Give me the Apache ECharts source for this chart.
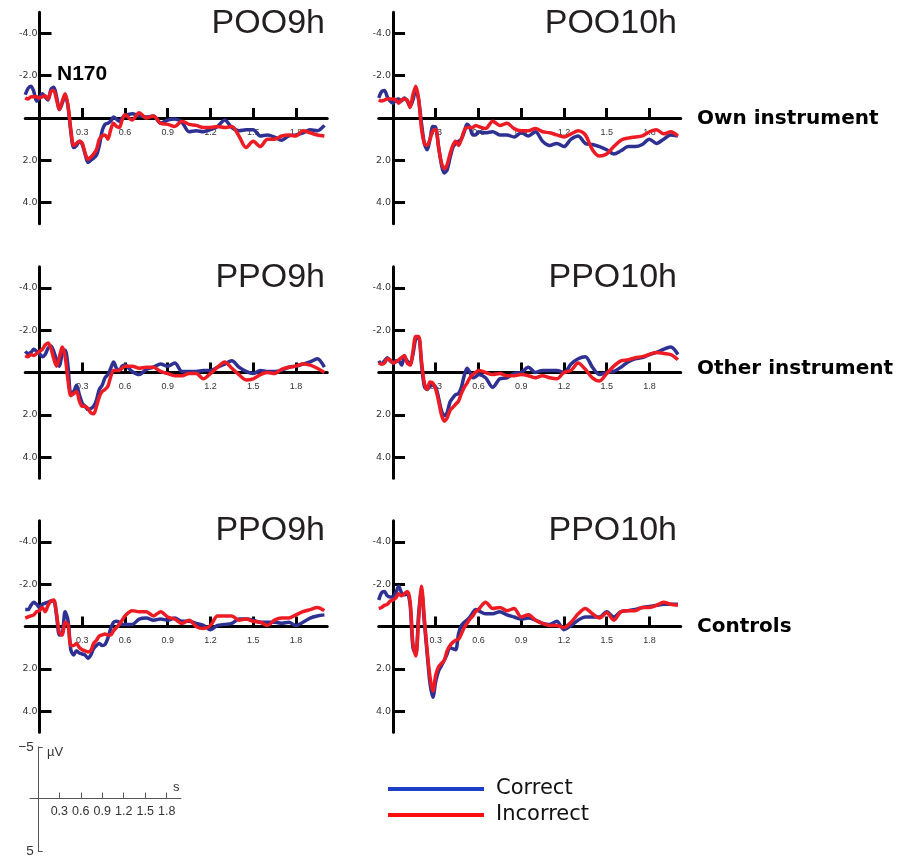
<!DOCTYPE html>
<html>
<head>
<meta charset="utf-8">
<script src="https://cdn.jsdelivr.net/npm/echarts@6/dist/echarts.min.js"></script>
<style>
  html, body { margin: 0; padding: 0; background: #fff; }
  #chart { width: 902px; height: 858px; }
</style>
</head>
<body>
<div id="chart"></div>
<script>
// time points (s)
var times = [-0.1, -0.08, -0.06, -0.04, -0.02, 0, 0.02, 0.04, 0.06, 0.08, 0.1, 0.12, 0.14, 0.16, 0.18, 0.2,
  0.22, 0.24, 0.26, 0.28, 0.3, 0.32, 0.34, 0.36, 0.38, 0.4, 0.42, 0.44, 0.46, 0.48, 0.5, 0.52, 0.54, 0.56, 0.58, 0.6,
  0.65, 0.7, 0.75, 0.8, 0.85, 0.9, 0.95, 1.0, 1.05, 1.1, 1.15, 1.2, 1.25, 1.3, 1.35, 1.4, 1.45, 1.5,
  1.55, 1.6, 1.65, 1.7, 1.75, 1.8, 1.85, 1.9, 1.95, 2.0];

var xTicks = [0.3, 0.6, 0.9, 1.2, 1.5, 1.8];
var yTicks = [-4, -2, 2, 4];
var scaleYTicks = [-5, 5];

var panelNames = ['POO9h', 'POO10h', 'PPO9h', 'PPO10h', 'PPO9h', 'PPO10h'];
var groupNames = ['Own instrument', 'Other instrument', 'Controls'];
var seriesNames = ['Correct', 'Incorrect'];

// µV, negative up
var ownPOO9hCorrect = [-1.1, -1.4, -1.5, -1.25, -0.8, -0.95, -1.15, -1.0, -0.85, -1.35, -1.45, -1.0, -0.4, -0.7, -1.1, -0.55,
  0.65, 1.4, 1.3, 1.1, 1.25, 1.7, 2.1, 2.0, 1.9, 1.75, 1.3, 0.6, 0.3, 0.25, 0.15, -0.05, 0.05, 0.15, 0.0, -0.1,
  -0.2, -0.1, -0.05, -0.1, 0.25, 0.1, 0.05, 0.2, 0.65, 0.6, 0.65, 0.55, 0.4, 0.1, 0.45, 0.6, 0.55, 0.55,
  0.85, 0.8, 0.9, 1.05, 0.85, 0.8, 0.7, 0.55, 0.6, 0.35];
var ownPOO9hIncorrect = [-0.95, -0.9, -1.0, -1.0, -1.0, -0.95, -1.0, -1.05, -0.9, -1.25, -1.3, -0.85, -0.4, -0.8, -1.15, -0.6,
  0.55, 1.3, 1.2, 1.1, 1.2, 1.65, 1.95, 1.85, 1.7, 1.5, 1.0, 0.85, 0.8, 1.0, 0.55, 0.25, 0.4, 0.45, 0.1, -0.15,
  0.1, -0.25, 0.0, -0.1, 0.25, 0.3, 0.4, 0.15, 0.3, 0.35, 0.45, 0.45, 0.4, 0.45, 0.4, 0.85, 1.4, 1.1,
  1.35, 1.0, 1.0, 0.85, 0.8, 0.85, 0.6, 0.7, 0.8, 0.85];

var ownPOO10hCorrect = [-0.95, -1.25, -1.3, -1.0, -0.8, -0.7, -0.85, -0.9, -0.8, -0.95, -0.8, -0.55, -0.85, -1.35, -0.85, 0.25,
  1.2, 1.5, 1.0, 0.4, 0.45, 1.35, 2.2, 2.6, 2.45, 1.9, 1.4, 1.2, 1.1, 1.0, 0.65, 0.3, 0.45, 0.8, 0.8, 0.65,
  0.7, 0.65, 0.8, 0.8, 0.9, 0.7, 0.85, 0.65, 1.1, 1.3, 1.2, 1.35, 1.0, 0.85, 1.2, 1.25, 1.35, 1.5,
  1.7, 1.55, 1.35, 1.35, 1.25, 1.0, 1.2, 1.0, 0.8, 0.85];
var ownPOO10hIncorrect = [-0.85, -0.8, -0.85, -0.9, -0.9, -0.9, -0.85, -0.7, -0.85, -0.9, -0.85, -0.5, -1.1, -1.5, -0.9, 0.5,
  1.2, 1.3, 1.0, 0.6, 0.55, 1.4, 2.1, 2.4, 2.2, 1.7, 1.3, 1.1, 1.3, 1.0, 0.6, 0.45, 0.45, 0.45, 0.35, 0.4,
  0.5, 0.15, 0.35, 0.25, 0.5, 0.6, 0.6, 0.5, 0.65, 0.7, 0.8, 0.9, 0.75, 0.6, 0.8, 1.5, 1.8, 1.7,
  1.35, 1.05, 0.95, 0.9, 0.85, 0.65, 0.55, 0.75, 0.65, 0.85];

var otherPPO9hCorrect = [-1.0, -0.9, -0.95, -1.1, -1.0, -0.9, -0.75, -0.85, -1.15, -1.25, -1.0, -0.6, -0.3, -0.9, -1.05, -0.3,
  1.0, 0.9, 0.6, 1.05, 1.45, 1.6, 1.75, 1.7, 1.6, 1.3, 0.8, 0.6, 0.25, 0.1, -0.2, -0.5, -0.2, -0.1, -0.3, -0.35,
  -0.05, 0.1, -0.15, -0.25, -0.4, -0.3, -0.45, -0.05, -0.05, -0.05, -0.1, -0.1, -0.25, -0.4, -0.55, -0.25, -0.05, 0.05,
  -0.1, -0.05, -0.05, -0.1, -0.25, -0.3, -0.4, -0.5, -0.65, -0.25];
var otherPPO9hIncorrect = [-0.8, -0.75, -0.85, -0.8, -0.9, -1.0, -1.1, -1.3, -1.4, -1.15, -0.65, -0.3, -0.75, -1.2, -0.75, 0.35,
  1.1, 1.0, 0.9, 1.35, 1.6, 1.6, 1.7, 1.9, 1.95, 1.6, 1.15, 0.9, 0.8, 0.65, 0.2, -0.1, -0.1, -0.1, -0.2, -0.3,
  -0.3, -0.2, -0.25, -0.25, -0.05, 0.05, 0.15, 0.15, 0.05, 0.05, 0.3, 0.05, -0.25, -0.5, -0.2, 0.1, 0.35, 0.3,
  0.1, 0.0, 0.05, -0.15, -0.25, -0.3, -0.4, -0.35, -0.2, 0.0];

var otherPPO10hCorrect = [-0.55, -0.4, -0.55, -0.7, -0.55, -0.45, -0.55, -0.55, -0.35, -0.7, -0.55, -0.4, -0.85, -1.6, -1.65, -0.4,
  0.65, 0.8, 0.65, 0.6, 0.7, 1.2, 1.8, 2.05, 1.9, 1.4, 1.2, 1.05, 1.0, 0.7, 0.15, -0.2, 0.0, 0.25, 0.2, 0.1,
  0.25, 0.7, 0.3, 0.25, 0.05, 0.0, -0.25, 0.0, -0.1, -0.1, -0.1, 0.0, -0.4, -0.65, -0.75, -0.25, 0.1, 0.0,
  -0.05, -0.25, -0.5, -0.65, -0.7, -0.85, -0.95, -1.1, -1.2, -0.85];
var otherPPO10hIncorrect = [-0.45, -0.4, -0.45, -0.65, -0.6, -0.45, -0.5, -0.6, -0.7, -0.8, -0.45, -0.35, -1.0, -1.7, -1.7, -0.55,
  0.5, 0.8, 0.45, 0.5, 0.8, 1.35, 2.0, 2.3, 2.15, 1.8, 1.65, 1.5, 1.35, 1.0, 0.7, 0.5, 0.25, 0.1, 0.0, -0.1,
  0.0, 0.1, 0.05, 0.15, 0.15, 0.1, 0.15, 0.25, 0.15, 0.25, 0.3, 0.0, -0.1, -0.45, -0.15, 0.25, 0.4, 0.05,
  -0.3, -0.55, -0.6, -0.7, -0.75, -0.85, -0.95, -0.9, -0.85, -0.6];

var ctrlPPO9hCorrect = [-0.8, -0.8, -1.0, -1.15, -1.05, -0.9, -1.05, -1.1, -1.15, -1.2, -1.2, -0.5, 0.4, 0.35, -0.7, -0.3,
  1.1, 1.35, 1.15, 1.25, 1.3, 1.35, 1.5, 1.35, 1.05, 0.9, 0.8, 0.9, 0.85, 0.55, 0.1, -0.2, -0.25, -0.2, -0.1, -0.1,
  -0.1, -0.35, -0.4, -0.3, -0.35, -0.3, -0.4, -0.25, -0.25, -0.15, -0.05, 0.15, -0.05, -0.1, -0.15, -0.35, -0.35, -0.3,
  -0.2, -0.2, -0.2, -0.15, -0.2, -0.05, -0.2, -0.4, -0.5, -0.55];
var ctrlPPO9hIncorrect = [-0.4, -0.45, -0.5, -0.55, -0.7, -0.75, -0.9, -0.7, -1.0, -1.2, -1.25, -0.6, 0.3, 0.4, -0.2, -0.1,
  0.9, 0.9, 0.8, 1.0, 1.1, 1.15, 1.2, 1.15, 0.8, 0.65, 0.45, 0.4, 0.35, 0.4, 0.4, 0.2, 0.05, -0.1, -0.3, -0.5,
  -0.75, -0.7, -0.7, -0.5, -0.7, -0.45, -0.35, -0.15, -0.3, 0.0, 0.1, -0.05, -0.5, -0.5, -0.5, -0.3, -0.35, -0.25,
  -0.2, -0.05, -0.3, -0.4, -0.4, -0.55, -0.7, -0.8, -0.9, -0.75];

var ctrlPPO10hCorrect = [-1.25, -1.6, -1.65, -1.45, -1.4, -1.4, -1.6, -1.9, -1.6, -1.5, -1.55, -1.05, 1.0, 1.3, -0.6, -1.7,
  -0.2, 1.3, 2.7, 3.35, 2.6, 2.1, 1.85, 1.6, 1.3, 1.0, 1.05, 1.1, 0.35, -0.05, -0.2, -0.3, -0.45, -0.65, -0.8, -0.75,
  -0.6, -0.6, -0.7, -0.55, -0.45, -0.35, -0.4, -0.3, -0.15, -0.1, -0.25, 0.15, -0.05, -0.3, -0.45, -0.45, -0.45, -0.7,
  -0.45, -0.7, -0.75, -0.8, -0.9, -0.95, -1.0, -1.05, -1.05, -1.05];
var ctrlPPO10hIncorrect = [-0.85, -0.9, -1.0, -1.05, -1.2, -1.25, -1.35, -1.55, -1.45, -1.55, -1.65, -1.2, 0.8, 1.4, -0.3, -1.9,
  -0.4, 1.15, 2.4, 3.05, 2.3, 1.9, 1.75, 1.6, 1.15, 0.9, 0.75, 0.65, 0.6, 0.35, 0.05, -0.15, -0.35, -0.5, -0.7, -0.8,
  -1.15, -0.85, -0.9, -0.75, -0.85, -0.45, -0.55, -0.3, -0.15, -0.05, -0.05, 0.05, -0.2, -0.6, -0.85, -0.6, -0.4, -0.65,
  -0.3, -0.7, -0.75, -0.75, -0.9, -0.9, -1.0, -1.15, -1.05, -1.0];

var panelData = [
  [ownPOO9hCorrect, ownPOO9hIncorrect],
  [ownPOO10hCorrect, ownPOO10hIncorrect],
  [otherPPO9hCorrect, otherPPO9hIncorrect],
  [otherPPO10hCorrect, otherPPO10hIncorrect],
  [ctrlPPO9hCorrect, ctrlPPO9hIncorrect],
  [ctrlPPO10hCorrect, ctrlPPO10hIncorrect]
];

var lineColors = ['#2e3192', '#ed1c24'];
var legendColors = ['#1d3fc6', '#ff1010'];

// layout
var colLeft = [25.25, 378.75];
var rowTop = [12.25, 266.75, 520.75];
var titleRight = [577, 225];
var titleTop = [7, 261, 514];
var plotW = 302, plotH = 211.5;

var chart = echarts.init(document.getElementById('chart'));

var grids = [], xAxes = [], yAxes = [], series = [], titles = [];

function fmt1(v) { return v.toFixed(1); }

// axis lines are moved onto the zero lines with offset, so labels follow them
panelData.forEach(function (pair, i) {
  var col = i % 2, row = Math.floor(i / 2);
  grids.push({ left: colLeft[col], top: rowTop[row], width: plotW, height: plotH });
  xAxes.push({
    gridIndex: i, type: 'value', min: -0.1, max: 2.02, position: 'bottom', offset: -plotH / 2,
    axisLine: { onZero: false, lineStyle: { color: '#000', width: 3 } },
    axisTick: { inside: true, length: 10, customValues: xTicks, lineStyle: { color: '#000', width: 3 } },
    axisLabel: { customValues: xTicks, margin: 10, fontSize: 9, color: '#333', fontFamily: 'Liberation Sans', formatter: fmt1 },
    splitLine: { show: false }
  });
  yAxes.push({
    gridIndex: i, type: 'value', min: -5, max: 5, inverse: true, position: 'left', offset: -0.1 / 2.12 * plotW,
    axisLine: { onZero: false, lineStyle: { color: '#000', width: 3 } },
    axisTick: { inside: true, length: 12, customValues: yTicks, lineStyle: { color: '#000', width: 3 } },
    axisLabel: { customValues: yTicks, margin: 2, fontSize: 9.5, color: '#333', fontFamily: 'DejaVu Sans', formatter: fmt1 },
    splitLine: { show: false }
  });
  pair.forEach(function (vals, k) {
    series.push({
      name: seriesNames[k], type: 'line', xAxisIndex: i, yAxisIndex: i,
      data: times.map(function (t, j) { return [t, vals[j]]; }),
      showSymbol: false, smooth: 0.3,
      lineStyle: { color: lineColors[k], width: 3.5 },
      itemStyle: { color: lineColors[k] }
    });
  });
  titles.push({
    text: panelNames[i], right: titleRight[col], top: titleTop[row], padding: 0,
    textStyle: { fontFamily: 'Liberation Sans', fontSize: 34, fontWeight: 'normal', color: '#231f20' }
  });
});

// small scale bar, bottom left
var sW = 151, sH = 105;
grids.push({ left: 30, top: 747, width: sW, height: sH });
xAxes.push({
  gridIndex: 6, type: 'value', min: -0.11, max: 2.0, position: 'bottom', offset: -sH / 2,
  axisLine: { onZero: false, lineStyle: { color: '#555', width: 1 } },
  axisTick: { inside: true, length: 6, customValues: xTicks, lineStyle: { color: '#555', width: 1 } },
  axisLabel: { customValues: xTicks, margin: 7, fontSize: 12.5, color: '#333', fontFamily: 'Liberation Sans', formatter: fmt1 },
  splitLine: { show: false }
});
yAxes.push({
  gridIndex: 6, type: 'value', min: -5, max: 5, inverse: true, position: 'left', offset: -0.11 / 2.11 * sW,
  axisLine: { onZero: false, lineStyle: { color: '#555', width: 1 } },
  axisTick: { inside: true, length: 5, customValues: scaleYTicks, lineStyle: { color: '#555', width: 1 } },
  axisLabel: { customValues: scaleYTicks, margin: 4, fontSize: 13.5, color: '#333', fontFamily: 'Liberation Sans',
    formatter: function (v) { return v < 0 ? '\u2212' + Math.abs(v) : String(v); } },
  splitLine: { show: false }
});

var groupTop = [109, 359, 617];
var graphics = groupNames.map(function (name, r) {
  return {
    type: 'text', left: 697, top: groupTop[r],
    style: { text: name, font: 'bold 20px "DejaVu Sans"', fill: '#000' }
  };
});
graphics.push({ type: 'text', left: 57, top: 64, style: { text: 'N170', font: 'bold 21px "Liberation Sans"', fill: '#000' } });
graphics.push({ type: 'text', left: 47, top: 746, style: { text: 'µV', font: '13px "Liberation Sans"', fill: '#333' } });
graphics.push({ type: 'text', left: 173, top: 781, style: { text: 's', font: '13px "Liberation Sans"', fill: '#333' } });

var option = {
  animation: false,
  title: titles,
  grid: grids,
  xAxis: xAxes,
  yAxis: yAxes,
  series: series,
  legend: {
    orient: 'vertical', left: 388, top: 777, padding: 0,
    itemWidth: 96, itemHeight: 4, itemGap: 2, icon: 'rect', selectedMode: false,
    textStyle: { fontFamily: 'DejaVu Sans', fontSize: 21, lineHeight: 24, color: '#111', padding: [0, 0, 0, 7] },
    data: seriesNames.map(function (n, k) { return { name: n, itemStyle: { color: legendColors[k] } }; })
  },
  graphic: graphics
};

chart.setOption(option);
</script>
</body>
</html>
